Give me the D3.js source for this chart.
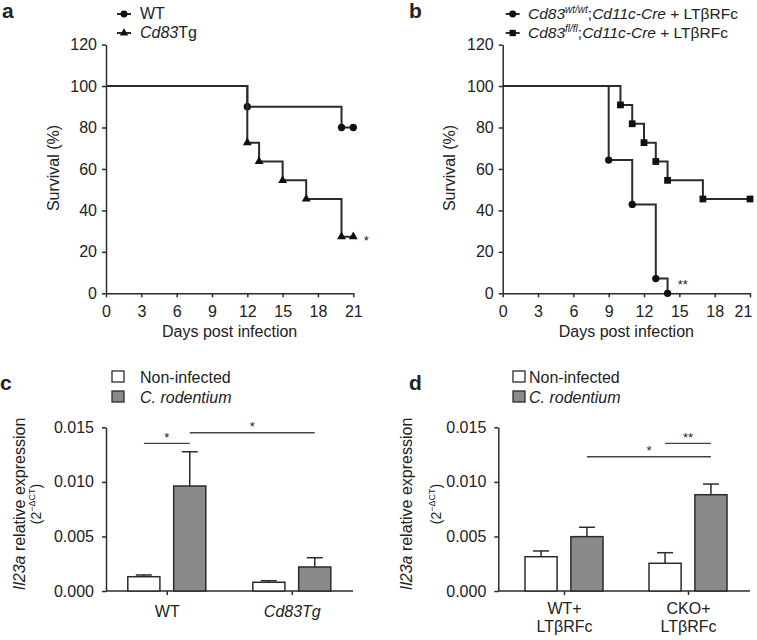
<!DOCTYPE html>
<html><head><meta charset="utf-8">
<script src="https://cdn.jsdelivr.net/npm/d3@7"></script>
<style>
body{margin:0;background:#fff}
text{font-family:"Liberation Sans",Arial,Helvetica,sans-serif;fill:#222}
</style>
</head><body><svg id="chart" width="757" height="640"></svg>
<script>
// ---------- DATA ----------
const dayTicks = [0, 3, 6, 9, 12, 15, 18, 21];
const survivalTicks = [0, 20, 40, 60, 80, 100, 120];
// panel a
const aWTDays = [0, 12, 20, 21];
const aWTSurv = [100, 90, 80, 80];
const aTgDays = [0, 12, 13, 15, 17, 20, 21];
const aTgSurv = [100, 72.7, 63.6, 54.5, 45.5, 27.3, 27.3];
// panel b
const bWTDays = [0, 9, 11, 13, 14];
const bWTSurv = [100, 64.3, 42.9, 7.1, 0];
const bCKODays = [0, 10, 11, 12, 13, 14, 17, 21];
const bCKOSurv = [100, 90.9, 81.8, 72.7, 63.6, 54.5, 45.5, 45.5];
// panel c
const exprTicks = [0, 0.005, 0.010, 0.015];
const seriesNames = ["Non-infected", "C. rodentium"];
const cGroups = ["WT", "Cd83Tg"];
const cNonMean = [0.00131, 0.00080];
const cNonErr  = [0.00016, 0.00014];
const cInfMean = [0.00962, 0.00220];
const cInfErr  = [0.00314, 0.00085];
// panel d
const dGroups = ["WT+|LTβRFc", "CKO+|LTβRFc"];
const dNonMean = [0.00314, 0.00254];
const dNonErr  = [0.00053, 0.00097];
const dInfMean = [0.00498, 0.00882];
const dInfErr  = [0.00086, 0.00098];
// significance annotations [group1, series1, group2, series2, level, label]
const cSig = [[0, 0, 0, 1, 0.01353, "*"], [0, 1, 1, 1, 0.0145, "*"]];
const dSig = [[1, 0, 1, 1, 0.01353, "**"], [0, 1, 1, 1, 0.0123, "*"]];

// ---------- DRAW ----------
const svg = d3.select("#chart");
svg.append("rect").attr("width", 757).attr("height", 640).attr("fill", "#fff");
const INK = "#2b2b2b";
const FS = 16;

function styleAxis(g) {
  g.selectAll("path.domain").attr("stroke", INK).attr("stroke-width", 1.5);
  g.selectAll(".tick line").attr("stroke", INK).attr("stroke-width", 1.5);
  g.selectAll(".tick text").attr("font-size", FS).attr("fill", "#222")
    .attr("font-family", '"Liberation Sans",Arial,Helvetica,sans-serif');
}

function panelLabel(t, x, y) {
  svg.append("text").attr("x", x).attr("y", y).attr("font-size", 21)
    .attr("font-weight", "bold").text(t);
}

// ---- survival panels ----
function survivalPanel(opt) {
  const x = d3.scaleLinear().domain([0, 21]).range([opt.x0, opt.x0 + 247.3]);
  const y = d3.scaleLinear().domain([0, 120]).range([293.3, 44.6]);
  const gx = svg.append("g").attr("transform", `translate(0,${y(0)})`)
    .call(d3.axisBottom(x).tickValues(dayTicks).tickSize(4).tickPadding(8).tickSizeOuter(0));
  styleAxis(gx);
  if (opt.lastShift) {
    gx.selectAll(".tick text").filter(d => d === 21).attr("dx", opt.lastShift);
  }
  const gy = svg.append("g").attr("transform", `translate(${x(0)},0)`)
    .call(d3.axisLeft(y).tickValues(survivalTicks).tickSize(4).tickPadding(5).tickSizeOuter(0));
  styleAxis(gy);
  svg.append("text").attr("x", (x(0) + x(21)) / 2).attr("y", 337).attr("text-anchor", "middle")
    .attr("font-size", FS).text("Days post infection");
  svg.append("text").attr("transform", `translate(${opt.ylabX},168) rotate(-90)`)
    .attr("text-anchor", "middle").attr("font-size", FS).text("Survival (%)");
  const line = d3.line().x(d => x(d[0])).y(d => y(d[1])).curve(d3.curveStepAfter);
  opt.series.forEach(s => {
    const pts = s.days.map((d, i) => [d, s.surv[i]]);
    svg.append("path").attr("d", line(pts)).attr("fill", "none")
      .attr("stroke", INK).attr("stroke-width", 2);
    svg.selectAll(null).data(pts.slice(1)).enter().append("path")
      .attr("transform", d => `translate(${x(d[0])},${y(d[1])})`)
      .attr("d", d3.symbol().type(s.sym).size(s.size)).attr("fill", "#111");
  });
  svg.append("text").attr("x", x(opt.star[0])).attr("y", y(opt.star[1]) + 8)
    .attr("text-anchor", "middle").attr("font-size", 13).text(opt.star[2]);
}

survivalPanel({
  x0: 106, ylabX: 59,
  series: [
    {days: aWTDays, surv: aWTSurv, sym: d3.symbolCircle, size: 42},
    {days: aTgDays, surv: aTgSurv, sym: d3.symbolTriangle, size: 34}
  ],
  star: [22.1, 27.3, "*"]
});
survivalPanel({
  x0: 502.7, ylabX: 455, lastShift: -7,
  series: [
    {days: bWTDays, surv: bWTSurv, sym: d3.symbolCircle, size: 42},
    {days: bCKODays, surv: bCKOSurv, sym: d3.symbolSquare, size: 46}
  ],
  star: [15.3, 6, "**"]
});

panelLabel("a", 2, 18);
panelLabel("b", 409, 18);

// survival legends
function lineLegend(x, y, sym, size) {
  svg.append("line").attr("x1", x - 7).attr("x2", x + 7).attr("y1", y).attr("y2", y)
    .attr("stroke", INK).attr("stroke-width", 2);
  svg.append("path").attr("transform", `translate(${x},${y})`)
    .attr("d", d3.symbol().type(sym).size(size)).attr("fill", "#111");
}
lineLegend(124, 14, d3.symbolCircle, 38);
lineLegend(124, 33, d3.symbolTriangle, 30);
svg.append("text").attr("x", 140).attr("y", 19).attr("font-size", FS).text("WT");
{
  const t = svg.append("text").attr("x", 140).attr("y", 38).attr("font-size", FS);
  t.append("tspan").attr("font-style", "italic").text("Cd83");
  t.append("tspan").text("Tg");
}
lineLegend(512.7, 14, d3.symbolCircle, 38);
lineLegend(512.7, 33, d3.symbolSquare, 40);
function bLegend(y, sup) {
  const t = svg.append("text").attr("x", 528).attr("y", y).attr("font-size", 15.5);
  t.append("tspan").attr("font-style", "italic").text("Cd83");
  t.append("tspan").attr("font-style", "italic").attr("font-size", 10).attr("dy", -6).text(sup);
  t.append("tspan").attr("dy", 6).text(";");
  t.append("tspan").attr("font-style", "italic").text("Cd11c-Cre");
  t.append("tspan").text(" + LTβRFc");
}
bLegend(19, "wt/wt");
bLegend(38, "fl/fl");

// ---- bar panels ----
function barPanel(opt) {
  const y = d3.scaleLinear().domain([0, 0.015]).range([591, 427.3]);
  const xg = d3.scalePoint().domain(d3.range(opt.groups.length)).range(opt.xr).padding(0.5);
  const xs = d3.scaleBand().domain([0, 1]).range([-39, 39]).paddingInner(0.3);
  const bx = (g, s) => xg(g) + xs(s) + xs.bandwidth() / 2;
  // axes
  const gy = svg.append("g").attr("transform", `translate(${opt.yx},0)`)
    .call(d3.axisLeft(y).tickValues(exprTicks).tickFormat(d3.format(".3f"))
      .tickSize(4).tickPadding(8).tickSizeOuter(0));
  styleAxis(gy);
  svg.append("line").attr("x1", opt.yx).attr("x2", opt.xEnd).attr("y1", y(0)).attr("y2", y(0))
    .attr("stroke", INK).attr("stroke-width", 1.5);
  const gx = svg.append("g").attr("transform", `translate(0,${y(0)})`)
    .call(d3.axisBottom(xg).tickSize(4).tickPadding(opt.pad).tickFormat(""));
  gx.select("path.domain").remove();
  styleAxis(gx);
  gx.selectAll(".tick").each(function (d) {
    const lines = opt.groups[d].split("|");
    const t = d3.select(this).select("text").text(null);
    lines.forEach((l, i) => {
      t.append("tspan").attr("x", 0).attr("dy", i === 0 ? "0.71em" : 18)
        .attr("font-style", opt.italicX ? "italic" : null).text(l);
    });
  });
  // bars
  const rows = [];
  opt.groups.forEach((g, i) => {
    rows.push({g: i, s: 0, m: opt.non[i], e: opt.nonErr[i]});
    rows.push({g: i, s: 1, m: opt.inf[i], e: opt.infErr[i]});
  });
  const bw = xs.bandwidth();
  rows.forEach(r => {
    const cx = bx(r.g, r.s);
    svg.append("line").attr("x1", cx).attr("x2", cx).attr("y1", y(r.m)).attr("y2", y(r.m + r.e))
      .attr("stroke", INK).attr("stroke-width", 1.5);
    svg.append("line").attr("x1", cx - 8).attr("x2", cx + 8).attr("y1", y(r.m + r.e)).attr("y2", y(r.m + r.e))
      .attr("stroke", INK).attr("stroke-width", 1.5);
    svg.append("rect").attr("x", cx - bw / 2).attr("width", bw)
      .attr("y", y(r.m)).attr("height", y(0) - y(r.m))
      .attr("fill", r.s === 0 ? "#fff" : "#8a8a8a").attr("stroke", INK).attr("stroke-width", 1.5);
  });
  // significance
  opt.sig.forEach(s => {
    const x1 = bx(s[0], s[1]), x2 = bx(s[2], s[3]), yy = y(s[4]);
    svg.append("line").attr("x1", x1).attr("x2", x2).attr("y1", yy).attr("y2", yy)
      .attr("stroke", "#444").attr("stroke-width", 1.3);
    svg.append("text").attr("x", (x1 + x2) / 2).attr("y", yy - 1.5).attr("text-anchor", "middle")
      .attr("font-size", 13).text(s[5]);
  });
  // y label
  const cy = 504;
  const t1 = svg.append("text").attr("transform", `translate(${opt.yl1},${cy}) rotate(-90)`)
    .attr("text-anchor", "middle").attr("font-size", FS);
  t1.append("tspan").attr("font-style", "italic").text("Il23a");
  t1.append("tspan").text(" relative expression");
  const t2 = svg.append("text").attr("transform", `translate(${opt.yl2},${cy}) rotate(-90)`)
    .attr("text-anchor", "middle").attr("font-size", 14);
  t2.append("tspan").text("(2");
  t2.append("tspan").attr("font-size", 9).attr("dy", -6).text("−ΔCT");
  t2.append("tspan").attr("dy", 6).text(")");
  // legend
  seriesNames.forEach((n, i) => {
    const ly = 371 + i * 20;
    svg.append("rect").attr("x", opt.legX).attr("y", ly).attr("width", 12).attr("height", 11)
      .attr("fill", i === 0 ? "#fff" : "#8a8a8a").attr("stroke", INK).attr("stroke-width", 1.3);
    svg.append("text").attr("x", opt.legX + 16 + opt.legGap).attr("y", ly + 11.5).attr("font-size", FS)
      .attr("font-style", i === 1 ? "italic" : null).text(n);
  });
}

barPanel({
  groups: cGroups, non: cNonMean, nonErr: cNonErr, inf: cInfMean, infErr: cInfErr,
  sig: cSig, xr: [104.3, 354.3], yx: 106, xEnd: 353, pad: 11, italicX: false,
  yl1: 24.5, yl2: 41, legX: 112, legGap: 12
});
barPanel({
  groups: dGroups, non: dNonMean, nonErr: dNonErr, inf: dInfMean, infErr: dInfErr,
  sig: dSig, xr: [502, 750], yx: 498.3, xEnd: 750, pad: 8, italicX: false,
  yl1: 412, yl2: 441, legX: 513, legGap: 0
});
panelLabel("c", 0, 390);
panelLabel("d", 409, 390);
// italic Cd83Tg tick label in panel c
d3.selectAll("tspan").filter(function(){return this.textContent==="Cd83Tg";}).attr("font-style","italic");
</script>
</body></html>
